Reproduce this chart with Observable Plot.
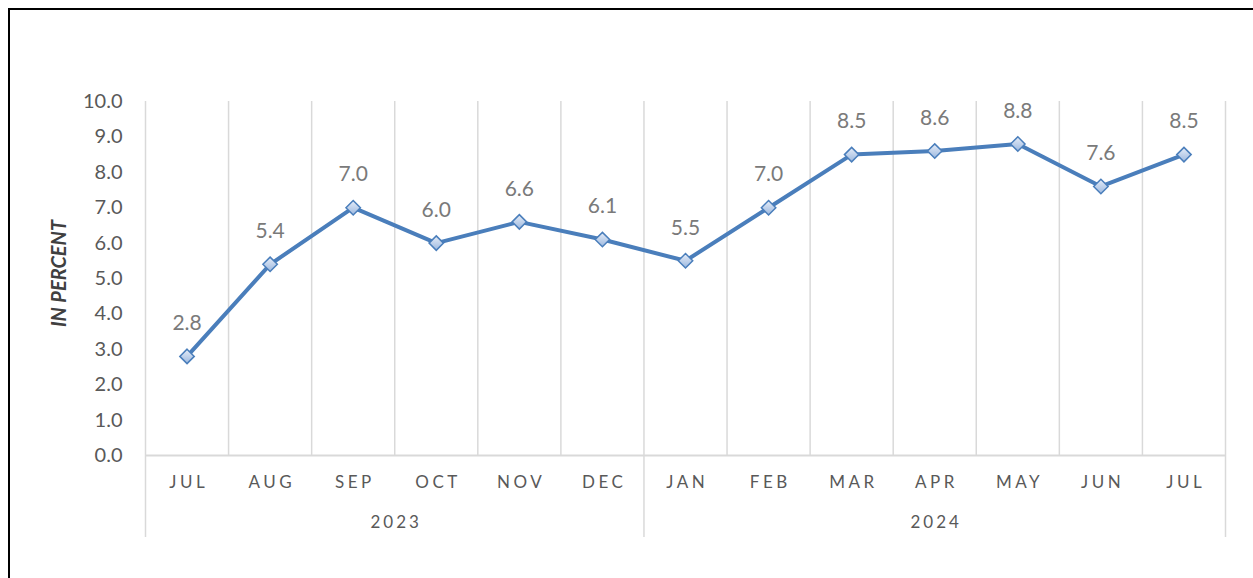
<!DOCTYPE html>
<html><head><meta charset="utf-8">
<script src="https://cdn.jsdelivr.net/npm/d3@7"></script>
<script src="https://cdn.jsdelivr.net/npm/@observablehq/plot@0.6"></script>
<style>
html,body{margin:0;padding:0;background:#fff;overflow:hidden;}
#frame{position:absolute;left:8px;top:8px;width:1400px;height:700px;border-top:2px solid #000;border-left:2px solid #000;}
#frame svg{display:block}
text[aria-label="months"]{letter-spacing:3.5px}
text[aria-label="years"]{letter-spacing:3px}
</style></head><body><div id="frame"></div>
<script>
const months = ["JUL","AUG","SEP","OCT","NOV","DEC","JAN","FEB","MAR","APR","MAY","JUN","JUL"];
const years  = ["2023","2023","2023","2023","2023","2023","2024","2024","2024","2024","2024","2024","2024"];
const values = [2.8,5.4,7.0,6.0,6.6,6.1,5.5,7.0,8.5,8.6,8.8,7.6,8.5];
const yTicks = [0,1,2,3,4,5,6,7,8,9,10];
const yLabel = "IN PERCENT";

const data = months.map((m,i)=>({i, month:m, year:years[i], value:values[i], xc:i+0.5}));
const bounds = d3.range(months.length+1);
const groups = [];
years.forEach((y,i)=>{
  if (!groups.length || groups[groups.length-1].year !== y) groups.push({year:y, start:i, end:i+1});
  else groups[groups.length-1].end = i+1;
});
groups.forEach(g=>g.mid=(g.start+g.end)/2);
const seps = [0, ...groups.map(g=>g.end)];

const chart = Plot.plot({
  width:1243, height:568,
  marginLeft:135, marginRight:28, marginTop:91, marginBottom:123,
  x:{type:"linear", domain:[0, months.length], axis:null},
  y:{domain:[0,10], axis:null},
  style:{fontFamily:"Lato, 'Open Sans', sans-serif", background:"#fff", overflow:"visible"},
  marks:[
    Plot.ruleX(bounds, {stroke:"#d9d9d9", strokeWidth:1.5}),
    Plot.ruleX(seps, {stroke:"#d9d9d9", strokeWidth:1.5, insetTop:354, insetBottom:-82}),
    Plot.ruleY([0], {stroke:"#d9d9d9", strokeWidth:2}),
    Plot.axisY(yTicks, {tickSize:0, tickPadding:23, fontSize:20, color:"#595959", tickFormat:d3.format(".1f"), label:null}),
    Plot.text(data, {x:"xc", text:"month", frameAnchor:"bottom", dy:32, dx:1.75, fontSize:17, fill:"#595959", ariaLabel:()=>"months"}),
    Plot.text(groups, {x:"mid", text:"year", frameAnchor:"bottom", dy:72, dx:1.5, fontSize:17, fill:"#595959", ariaLabel:()=>"years"}),
    Plot.text([yLabel], {text:d=>d, frameAnchor:"left", textAnchor:"middle", rotate:-90, dx:-86, dy:-5, fontSize:20, fontWeight:"bold", fontStyle:"italic", fill:"#404040"}),
    Plot.line(data, {x:"xc", y:"value", stroke:"#4A7EBB", strokeWidth:4}),
    Plot.dot(data, {x:"xc", y:"value", symbol:"diamond2", r:6.5, fill:"url(#mk)", stroke:"#4A7EBB", strokeWidth:1.5}),
    Plot.text(data, {x:"xc", y:"value", text:d=>d.value.toFixed(1), dy:-33, fontSize:21, fill:"#7a7a7a"})
  ]
});
const svg = d3.select(chart);
const grad = svg.insert("defs", ":first-child").append("linearGradient")
  .attr("id","mk").attr("x1",0).attr("y1",0).attr("x2",0).attr("y2",1);
grad.append("stop").attr("offset","0%").attr("stop-color","#e6edf8");
grad.append("stop").attr("offset","100%").attr("stop-color","#9cb8df");
document.getElementById("frame").appendChild(chart);
</script></body></html>
